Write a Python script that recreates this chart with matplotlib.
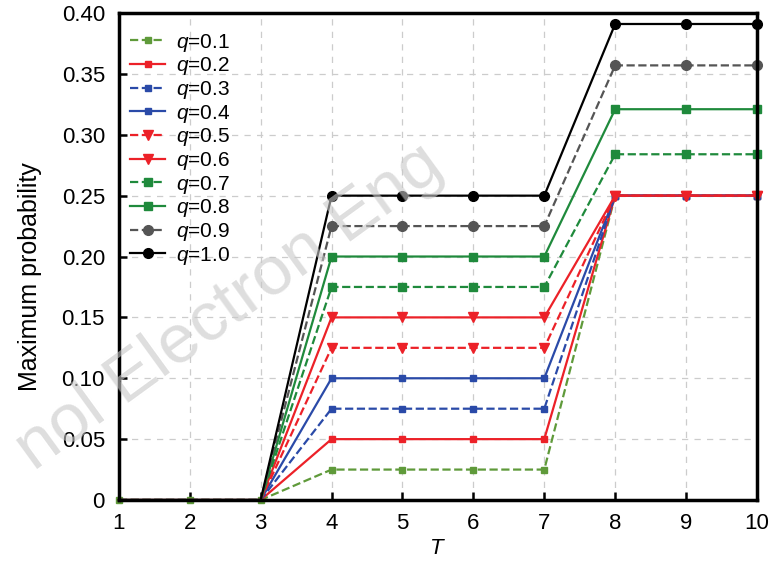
import matplotlib
matplotlib.use("Agg")
import matplotlib.pyplot as plt

plt.rcParams['font.family'] = ['Liberation Sans', 'DejaVu Sans']
plt.rcParams['mathtext.fontset'] = 'custom'
plt.rcParams['mathtext.it'] = 'Liberation Sans:italic'
plt.rcParams['mathtext.rm'] = 'Liberation Sans'

T = [1, 2, 3, 4, 5, 6, 7, 8, 9, 10]
q_labels = ["0.1", "0.2", "0.3", "0.4", "0.5", "0.6", "0.7", "0.8", "0.9", "1.0"]
p_q01 = [0, 0, 0, 0.025, 0.025, 0.025, 0.025, 0.25, 0.25, 0.25]
p_q02 = [0, 0, 0, 0.050, 0.050, 0.050, 0.050, 0.25, 0.25, 0.25]
p_q03 = [0, 0, 0, 0.075, 0.075, 0.075, 0.075, 0.25, 0.25, 0.25]
p_q04 = [0, 0, 0, 0.100, 0.100, 0.100, 0.100, 0.25, 0.25, 0.25]
p_q05 = [0, 0, 0, 0.125, 0.125, 0.125, 0.125, 0.25, 0.25, 0.25]
p_q06 = [0, 0, 0, 0.150, 0.150, 0.150, 0.150, 0.25, 0.25, 0.25]
p_q07 = [0, 0, 0, 0.175, 0.175, 0.175, 0.175, 0.284, 0.284, 0.284]
p_q08 = [0, 0, 0, 0.200, 0.200, 0.200, 0.200, 0.321, 0.321, 0.321]
p_q09 = [0, 0, 0, 0.225, 0.225, 0.225, 0.225, 0.357, 0.357, 0.357]
p_q10 = [0, 0, 0, 0.250, 0.250, 0.250, 0.250, 0.391, 0.391, 0.391]
series = [p_q01, p_q02, p_q03, p_q04, p_q05, p_q06, p_q07, p_q08, p_q09, p_q10]

green = '#1f8a3c'
green_l = '#5f9a3a'
red = '#ec2128'
blue = '#2a4aa8'
styles = [
    dict(color=green_l, ls='--', marker='s', ms=4),
    dict(color=red, ls='-', marker='s', ms=4),
    dict(color=blue, ls='--', marker='s', ms=5),
    dict(color=blue, ls='-', marker='s', ms=5),
    dict(color=red, ls='--', marker='v', ms=7),
    dict(color=red, ls='-', marker='v', ms=7),
    dict(color=green, ls='--', marker='s', ms=6),
    dict(color=green, ls='-', marker='s', ms=6),
    dict(color='#555555', ls='--', marker='o', ms=7),
    dict(color='black', ls='-', marker='o', ms=7),
]

fig = plt.figure(figsize=(7.82, 5.62), dpi=100)
ax = fig.add_axes([0.152, 0.1103, 0.816, 0.8665])

for i, (vals, lab, st) in enumerate(zip(series, q_labels, styles)):
    me = None if i == 0 else list(range(3, len(T)))
    ax.plot(T, vals, lw=1.6, label=r'$q$=' + lab, markevery=me,
            clip_on=False, zorder=3, **st)

ax.set_xlim(1, 10)
ax.set_ylim(0, 0.40)
ax.set_xticks(T)
yt = [0, 0.05, 0.10, 0.15, 0.20, 0.25, 0.30, 0.35, 0.40]
ax.set_yticks(yt)
ax.set_yticklabels(['0'] + ['%.2f' % v for v in yt[1:]])
ax.tick_params(direction='in', length=6, width=1.8, labelsize=16, top=False, right=False)
ax.tick_params(axis='x', pad=9)
ax.tick_params(axis='y', pad=10)
ax.grid(True, ls=(0, (5, 5)), color='#cccccc', lw=0.9)
for s in ax.spines.values():
    s.set_linewidth(2.5)
    s.set_zorder(4)
ax.set_xlabel(r'$T$', fontsize=16, labelpad=3)
ax.set_ylabel('Maximum probability', fontsize=18)
ax.yaxis.set_label_coords(-0.121, 0.458)

leg = ax.legend(loc='upper left', bbox_to_anchor=(-0.012, 1.0), frameon=False,
                fontsize=15, handlelength=1.7, labelspacing=0.08,
                borderaxespad=0.5, handletextpad=0.5, borderpad=0.4)

fig.text(34 / 782, 1 - 472 / 562, 'nol Electron Eng', fontsize=50,
         color='#c8c8c8', alpha=0.6, rotation=36, rotation_mode='anchor',
         ha='left', va='baseline', zorder=5)

fig.savefig('out.png', dpi=100)
